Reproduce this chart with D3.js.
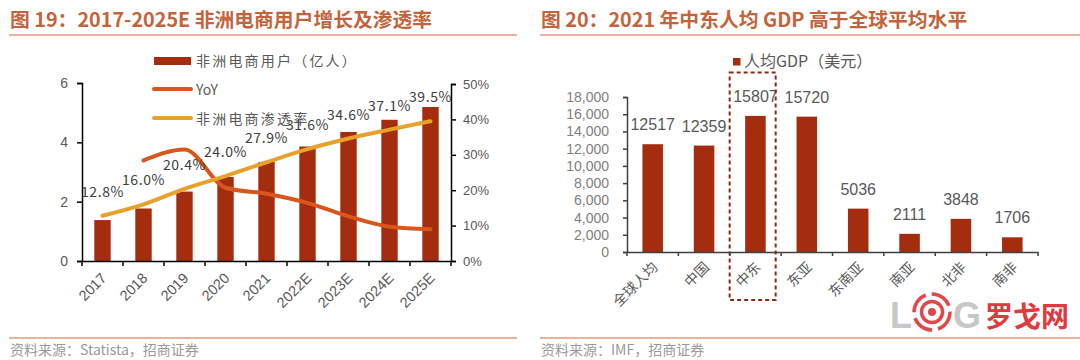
<!DOCTYPE html>
<html><head><meta charset="utf-8">
<script src="https://cdn.jsdelivr.net/npm/d3@7"></script>
<style>
html,body{margin:0;padding:0;background:#fff;}
svg{display:block;font-family:"Noto Sans CJK SC","Liberation Sans",sans-serif;}
</style></head>
<body><svg id="c" width="1080" height="360"></svg>
<script>
// ---------- data: left chart ----------
const years = ["2017","2018","2019","2020","2021","2022E","2023E","2024E","2025E"];
const users = [1.38, 1.77, 2.34, 2.83, 3.34, 3.86, 4.35, 4.76, 5.19];
const yoy = [null, 0.284, 0.315, 0.207, 0.190, 0.164, 0.126, 0.097, 0.090];
const penetration = [0.128, 0.160, 0.204, 0.240, 0.279, 0.316, 0.346, 0.371, 0.395];
const penLabels = ["12.8%","16.0%","20.4%","24.0%","27.9%","31.6%","34.6%","37.1%","39.5%"];
const leftTicks = [0, 2, 4, 6];
const rightTicks = [0, 0.1, 0.2, 0.3, 0.4, 0.5];
const leftLegend = ["非洲电商用户（亿人）", "YoY", "非洲电商渗透率"];
// ---------- data: right chart ----------
const regions = ["全球人均","中国","中东","东亚","东南亚","南亚","北非","南非"];
const gdp = [12517, 12359, 15807, 15720, 5036, 2111, 3848, 1706];
const gdpTicks = [0,2000,4000,6000,8000,10000,12000,14000,16000,18000];
const rightLegend = "人均GDP（美元）";
const title1 = "图 19：2017-2025E 非洲电商用户增长及渗透率";
const title2 = "图 20：2021 年中东人均 GDP 高于全球平均水平";
const source1 = "资料来源：Statista，招商证券";
const source2 = "资料来源：IMF，招商证券";

const svg = d3.select("#c");
const barColor = "#A52D0F", yoyColor = "#D9561C", penColor = "#E8A22C";
const titleColor = "#C4643C", ruleColor = "#DE9A7C";
const txt = "#595959";

// titles & rules
function header(x, x2, t){
  svg.append("text").attr("x", x).attr("y", 27).attr("fill", titleColor)
    .attr("font-size", 19.8).attr("font-weight", "bold").text(t);
  svg.append("line").attr("x1", x-1).attr("x2", x2).attr("y1", 35).attr("y2", 35)
    .attr("stroke", ruleColor).attr("stroke-width", 1.5);
}
header(10, 517, title1);
header(541, 1080, title2);
function footer(x, x2, t){
  svg.append("line").attr("x1", x-1).attr("x2", x2).attr("y1", 338).attr("y2", 338)
    .attr("stroke", ruleColor).attr("stroke-width", 1.5);
  svg.append("text").attr("x", x).attr("y", 355).attr("fill", "#9a9a9a")
    .attr("font-size", 14).text(t);
}
footer(10, 517, source1);
footer(541, 1080, source2);

// ---------- left chart ----------
const x = d3.scaleBand().domain(years).range([82, 451]).paddingInner(0.6).paddingOuter(0.3);
const yL = d3.scaleLinear().domain([0, 6]).range([261, 83]);
const yR = d3.scaleLinear().domain([0, 0.5]).range([261, 84]);

const gL = svg.append("g");
gL.selectAll("rect").data(years).join("rect")
  .attr("x", d => x(d)).attr("width", x.bandwidth())
  .attr("y", (d,i) => yL(users[i])).attr("height", (d,i) => yL(0) - yL(users[i]))
  .attr("fill", barColor);

const cx = d => x(d) + x.bandwidth()/2;
const lineYoy = d3.line().defined(d => d[1] != null).x(d => cx(d[0])).y(d => yR(d[1])).curve(d3.curveMonotoneX);
gL.append("path").datum(years.map((d,i) => [d, yoy[i]]))
  .attr("d", lineYoy).attr("fill", "none").attr("stroke", yoyColor).attr("stroke-width", 4).attr("stroke-linecap", "round");
const linePen = d3.line().x(d => cx(d[0])).y(d => yR(d[1])).curve(d3.curveMonotoneX);
gL.append("path").datum(years.map((d,i) => [d, penetration[i]]))
  .attr("d", linePen).attr("fill", "none").attr("stroke", penColor).attr("stroke-width", 4).attr("stroke-linecap", "round");

// axes
const axL = d3.axisLeft(yL).tickValues(leftTicks).tickFormat(d3.format("d")).tickSize(5).tickPadding(9);
const gax = svg.append("g").attr("transform", "translate(82,0)").call(axL);
const axR = d3.axisRight(yR).tickValues(rightTicks).tickFormat(d3.format(".0%")).tickSize(5).tickPadding(7);
const garx = svg.append("g").attr("transform", "translate(451,0)").call(axR);
const axB = d3.axisBottom(x).tickSize(0).tickFormat("");
const gbx = svg.append("g").attr("transform", "translate(0,261)").call(axB);
[gax, garx, gbx].forEach(g => {
  g.select(".domain").attr("stroke", "#000").attr("stroke-width", 1.5);
  g.selectAll(".tick line").attr("stroke", "#000").attr("stroke-width", 1.5);
  g.selectAll("text").attr("fill", txt).attr("font-size", 14).attr("font-family", "Liberation Sans, Arial, sans-serif");
});
garx.selectAll("text").attr("font-size", 13);
// category boundary ticks
gbx.selectAll("line.bt").data(d3.range(years.length + 1)).join("line")
  .attr("x1", i => 82 + i * x.step()).attr("x2", i => 82 + i * x.step())
  .attr("y1", 0).attr("y2", 5).attr("stroke", "#000").attr("stroke-width", 1.5);
// x labels rotated
gL.selectAll("text.xl").data(years).join("text")
  .attr("transform", d => `translate(${cx(d)+5},${279}) rotate(-45)`)
  .attr("text-anchor", "end").attr("fill", txt).attr("font-size", 14.5)
  .attr("font-family", "Liberation Sans, Arial, sans-serif").text(d => d);

// penetration labels
gL.selectAll("text.pl").data(years).join("text")
  .attr("x", d => cx(d)).attr("y", (d,i) => yR(penetration[i]) - 19)
  .attr("text-anchor", "middle").attr("fill", "#404040").attr("font-size", 14)
  .attr("letter-spacing", 0.6)
  .text((d,i) => penLabels[i]);

// legend
const lg = svg.append("g");
lg.append("rect").attr("x", 154).attr("y", 57).attr("width", 37).attr("height", 8).attr("fill", barColor);
lg.append("line").attr("x1", 154).attr("x2", 191).attr("y1", 89).attr("y2", 89).attr("stroke", yoyColor).attr("stroke-width", 4).attr("stroke-linecap", "round");
lg.append("line").attr("x1", 154).attr("x2", 191).attr("y1", 118).attr("y2", 118).attr("stroke", penColor).attr("stroke-width", 4).attr("stroke-linecap", "round");
[[66, 0], [95, 1], [124, 2]].forEach(([yy, i]) => {
  lg.append("text").attr("x", 196).attr("y", yy).attr("fill", txt).attr("font-size", 14)
    .attr("letter-spacing", i === 1 ? 0 : 2.2).text(leftLegend[i]);
});

// ---------- right chart ----------
const x2 = d3.scaleBand().domain(regions).range([627, 1038]).paddingInner(0.6).paddingOuter(0.3);
const y2 = d3.scaleLinear().domain([0, 18000]).range([252, 97]);
const gR = svg.append("g");
gR.selectAll("rect").data(regions).join("rect")
  .attr("x", d => x2(d)).attr("width", x2.bandwidth())
  .attr("y", (d,i) => y2(gdp[i])).attr("height", (d,i) => y2(0) - y2(gdp[i]))
  .attr("fill", barColor);
gR.selectAll("text.vl").data(regions).join("text")
  .attr("x", d => x2(d) + x2.bandwidth()/2).attr("y", (d,i) => y2(gdp[i]) - 14)
  .attr("text-anchor", "middle").attr("fill", txt).attr("font-size", 16)
  .attr("font-family", "Liberation Sans, Arial, sans-serif")
  .text((d,i) => gdp[i]);
const ay2 = svg.append("g").attr("transform", "translate(627,0)")
  .call(d3.axisLeft(y2).tickValues(gdpTicks).tickFormat(d3.format(",")).tickSize(4).tickPadding(14));
const ax2 = svg.append("g").attr("transform", "translate(0,252)").call(d3.axisBottom(x2).tickSize(0).tickFormat(""));
[ay2, ax2].forEach(g => {
  g.select(".domain").attr("stroke", "#404040").attr("stroke-width", 1.5);
  g.selectAll(".tick line").attr("stroke", "#404040").attr("stroke-width", 1.5);
  g.selectAll("text").attr("fill", "#7f7f7f").attr("font-size", 14).attr("font-family", "Liberation Sans, Arial, sans-serif");
});
ax2.selectAll("line.bt").data(d3.range(regions.length + 1)).join("line")
  .attr("x1", i => 627 + i * x2.step()).attr("x2", i => 627 + i * x2.step())
  .attr("y1", 0).attr("y2", 4).attr("stroke", "#404040").attr("stroke-width", 1.5);
gR.selectAll("text.xl").data(regions).join("text")
  .attr("transform", d => `translate(${x2(d) + x2.bandwidth()/2 + 6},${268}) rotate(-45)`)
  .attr("text-anchor", "end").attr("fill", txt).attr("font-size", 14).text(d => d);
// legend
gR.append("rect").attr("x", 733).attr("y", 58).attr("width", 7.5).attr("height", 7.5).attr("fill", barColor);
gR.append("text").attr("x", 744).attr("y", 67).attr("fill", txt).attr("font-size", 16).text(rightLegend);
// highlight box around 中东
const hb = x2("中东");
gR.append("rect").attr("x", hb - 15.5).attr("y", 72.5).attr("width", 46).attr("height", 227.5)
  .attr("fill", "none").attr("stroke", "#8E2A12").attr("stroke-width", 2).attr("stroke-dasharray", "4,3");

// watermark logo
const lo = svg.append("g");
lo.append("text").attr("x", 890).attr("y", 328).attr("font-size", 36).attr("font-weight", "bold")
  .attr("font-family", "Liberation Sans, Arial, sans-serif").attr("fill", "#c8c8c8").text("L");
lo.append("circle").attr("cx", 932).attr("cy", 312).attr("r", 18).attr("fill", "none").attr("stroke", "#e0484a").attr("stroke-width", 3.5).attr("stroke-dasharray", "22,6");
lo.append("circle").attr("cx", 932).attr("cy", 312).attr("r", 10.5).attr("fill", "none").attr("stroke", "#e0484a").attr("stroke-width", 3.5);
lo.append("circle").attr("cx", 932).attr("cy", 312).attr("r", 4).attr("fill", "#e0484a");
lo.append("text").attr("x", 953).attr("y", 328).attr("font-size", 36).attr("font-weight", "bold")
  .attr("font-family", "Liberation Sans, Arial, sans-serif").attr("fill", "#c8c8c8").text("G");
lo.append("text").attr("x", 985).attr("y", 327).attr("font-size", 28).attr("font-weight", "bold")
  .attr("fill", "#e0393e").text("罗戈网");
</script></body></html>
